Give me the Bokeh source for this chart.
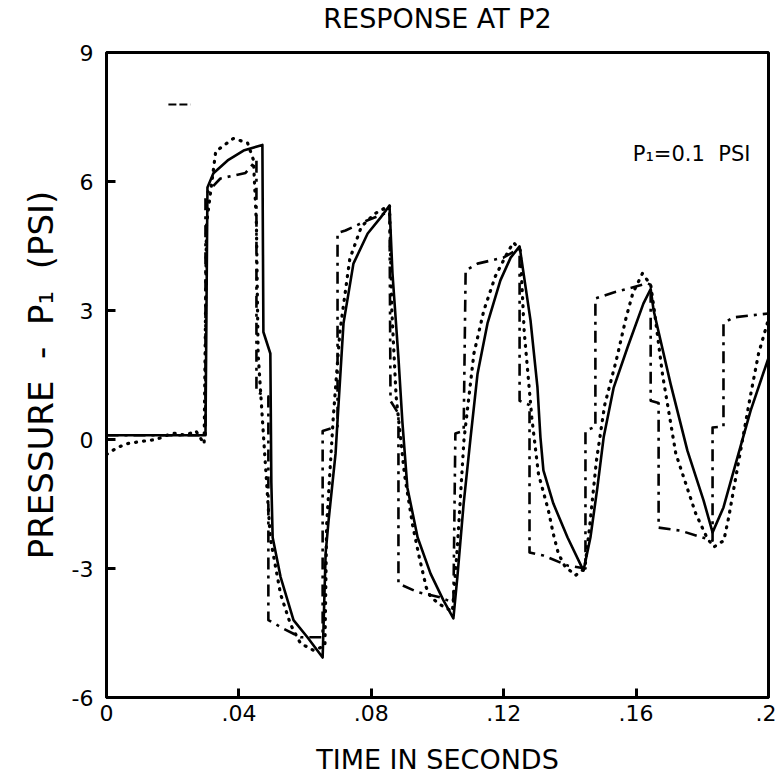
from bokeh.plotting import figure
from bokeh.models import Range1d, FixedTicker, CustomJSTickFormatter, Label, Title
from bokeh.embed import file_html
from bokeh.resources import INLINE

# ---- data (time in seconds, pressure in psi) ----
solid_t = [0.0, 0.0299, 0.0305, 0.0323, 0.0366, 0.0414, 0.0471, 0.0474, 0.0495, 0.0498,
           0.0502, 0.0526, 0.0565, 0.0607, 0.0653, 0.0662, 0.0671, 0.0692, 0.0698, 0.0716,
           0.0746, 0.0789, 0.0828, 0.0855, 0.0864, 0.0882, 0.0894, 0.0909, 0.0940, 0.0979,
           0.1018, 0.1048, 0.1060, 0.1079, 0.1100, 0.1121, 0.1151, 0.1190, 0.1221, 0.1248,
           0.1281, 0.1302, 0.1311, 0.1320, 0.1350, 0.1393, 0.1441, 0.1462, 0.1483, 0.1502,
           0.1532, 0.1574, 0.1622, 0.1644, 0.1653, 0.1704, 0.1755, 0.1804, 0.1831, 0.1864,
           0.1906, 0.1946, 0.2000]
solid_p = [0.1, 0.1, 5.86, 6.19, 6.49, 6.72, 6.85, 2.5, 2.0, -1.0,
           -2.28, -3.2, -4.2, -4.6, -5.07, -2.65, -1.88, -0.33, 0.44, 2.7,
           4.09, 4.79, 5.16, 5.44, 3.86, 1.9, 0.4, -1.12, -2.28, -3.12,
           -3.74, -4.16, -3.2, -1.49, 0.05, 1.53, 2.7, 3.7, 4.23, 4.49,
           2.77, 1.21, 0.05, -0.72, -1.49, -2.28, -3.05, -2.28, -1.12, 0.05,
           1.2, 2.14, 3.16, 3.5, 3.0, 1.3, -0.26, -1.42, -2.16, -1.58,
           -0.42, 0.67, 1.9]

dashdot_t = [0.0, 0.0299, 0.0299, 0.0344, 0.0420, 0.0453, 0.0453, 0.0489, 0.0489, 0.0535,
             0.0586, 0.0653, 0.0653, 0.0698, 0.0698, 0.0722, 0.0789, 0.0855, 0.0858, 0.0882,
             0.0882, 0.0940, 0.1009, 0.1048, 0.1054, 0.1079, 0.1085, 0.1121, 0.1199, 0.1248,
             0.1248, 0.1278, 0.1278, 0.1320, 0.1393, 0.1447, 0.1447, 0.1477, 0.1477, 0.1532,
             0.1634, 0.1644, 0.1644, 0.1668, 0.1668, 0.1734, 0.1831, 0.1831, 0.1864, 0.1864,
             0.1894, 0.2000]
dashdot_p = [0.1, 0.1, 5.7, 6.07, 6.2, 6.5, 1.1, 1.0, -4.2, -4.4,
             -4.6, -4.6, 0.2, 0.3, 4.8, 4.86, 5.1, 5.3, 0.9, 0.6,
             -3.35, -3.55, -3.67, -3.8, 0.14, 0.2, 3.93, 4.09, 4.23, 4.45,
             0.9, 0.8, -2.63, -2.7, -2.93, -3.0, 0.2, 0.3, 3.28, 3.42,
             3.63, 3.6, 0.9, 0.85, -2.05, -2.12, -2.35, 0.28, 0.3, 2.7,
             2.84, 2.93]

dotted_t = [0.0, 0.003, 0.006, 0.010, 0.015, 0.020, 0.024, 0.027, 0.0295, 0.0302,
            0.0330, 0.0383, 0.0426, 0.0444, 0.0453, 0.0458, 0.0475, 0.0495, 0.0526, 0.0556,
            0.0586, 0.0625, 0.0660, 0.0665, 0.0685, 0.0705, 0.0735, 0.0770, 0.0810, 0.0855,
            0.0862, 0.0875, 0.0900, 0.0925, 0.0945, 0.0966, 0.0980, 0.1010, 0.1045, 0.1060,
            0.1080, 0.1110, 0.1140, 0.1175, 0.1215, 0.1230, 0.1250, 0.1262, 0.1285, 0.1305,
            0.1335, 0.1350, 0.1365, 0.1385, 0.1417, 0.1445, 0.1460, 0.1480, 0.1505, 0.1540,
            0.1570, 0.1590, 0.1619, 0.1644, 0.1655, 0.1680, 0.1720, 0.1780, 0.1815, 0.1835,
            0.1865, 0.1880, 0.1910, 0.1945, 0.1970, 0.2000]
dotted_p = [-0.35, -0.2, -0.1, -0.05, 0.0, 0.15, 0.1, 0.2, -0.1, 5.0,
            6.7, 7.0, 6.9, 6.5, 5.0, 2.0, 0.0, -2.3, -3.6, -4.3,
            -4.74, -4.9, -4.8, -2.0, 0.5, 2.5, 4.2, 4.95, 5.25, 5.44,
            3.0, 1.0, -0.8, -2.0, -2.74, -3.44, -3.67, -3.85, -4.0, -2.5,
            0.0, 2.0, 3.0, 3.8, 4.4, 4.58, 4.4, 2.5, 0.5, -0.8,
            -1.65, -2.2, -2.65, -2.95, -3.16, -3.0, -2.0, -0.5, 0.8, 1.84,
            2.84, 3.4, 3.86, 3.6, 3.0, 1.5, -0.33, -1.72, -2.3, -2.5,
            -2.35, -1.8, -0.5, 1.0, 2.0, 2.8]

stray_t = [0.0187, 0.0254]
stray_p = [7.79, 7.79]

x_ticks = [0.0, 0.04, 0.08, 0.12, 0.16, 0.2]
y_ticks = [-6, -3, 0, 3, 6, 9]

TITLE = "RESPONSE AT P2"
FONT = "DejaVu Sans"
NB = "\u00a0"

p = figure(width=776, height=779, output_backend="svg", toolbar_location=None,
           x_range=Range1d(0, 0.2), y_range=Range1d(-6, 9),
           min_border_left=106, min_border_right=8, min_border_top=52, min_border_bottom=82)
p.background_fill_color = "white"
p.border_fill_color = "white"
p.grid.visible = False
p.outline_line_color = "black"
p.outline_line_width = 3

for ax in (p.xaxis[0], p.yaxis[0]):
    ax.axis_line_width = 3
    ax.axis_line_color = "black"
    ax.major_tick_in = 9
    ax.major_tick_out = 0
    ax.major_tick_line_width = 3
    ax.minor_tick_line_color = None
    ax.major_label_text_font = FONT
    ax.major_label_text_font_size = "22px"
    ax.major_label_text_color = "black"
    ax.axis_label_text_font = FONT
    ax.axis_label_text_font_style = "normal"
    ax.axis_label_text_color = "black"

p.xaxis.ticker = FixedTicker(ticks=x_ticks)
p.xaxis.formatter = CustomJSTickFormatter(code="""
    if (Math.abs(tick) < 1e-9) return "0";
    let s = tick.toFixed(2).replace(/^0/, "");
    s = s.replace(/0$/, "");
    return s;
""")
p.xaxis.major_label_standoff = 7
p.xaxis.axis_label = "TIME IN SECONDS"
p.xaxis.axis_label_text_font_size = "27px"
p.xaxis.axis_label_standoff = 20

p.yaxis.ticker = FixedTicker(ticks=y_ticks)
p.yaxis.formatter = CustomJSTickFormatter(code="return String(Math.round(tick));")
p.yaxis.major_label_standoff = 13
p.yaxis.axis_label = "PRESSURE" + NB * 2 + "-" + NB * 2 + "P\u2081" + NB * 2 + "(PSI)"
p.yaxis.axis_label_text_font_size = "34px"
p.yaxis.axis_label_standoff = 8

# series
p.line(solid_t, solid_p, line_color="black", line_width=2.6, line_join="round")
p.line(dashdot_t, dashdot_p, line_color="black", line_width=2.6, line_dash="12 6 3 6",
       line_join="round")
p.line(dotted_t, dotted_p, line_color="black", line_width=3.2, line_dash="1 7",
       line_cap="round", line_join="round")
p.line(stray_t, stray_p, line_color="black", line_width=2, line_dash="8 3")

# spacer below the title, then the title itself (stacked outward from the frame)
p.add_layout(Title(text=NB, text_font_size="16px", standoff=0, align="center"), "above")
p.add_layout(Title(text=TITLE, text_font=FONT, text_font_size="27px", text_color="black",
                   text_font_style="normal", align="center", standoff=0), "above")

p.add_layout(Label(x=0.159, y=6.65, text="P\u2081=0.1" + NB * 2 + "PSI", text_font=FONT,
                   text_font_size="21px", text_color="black", text_baseline="middle",
                   text_align="left"))

open("out.html", "w").write(file_html(p, INLINE))
